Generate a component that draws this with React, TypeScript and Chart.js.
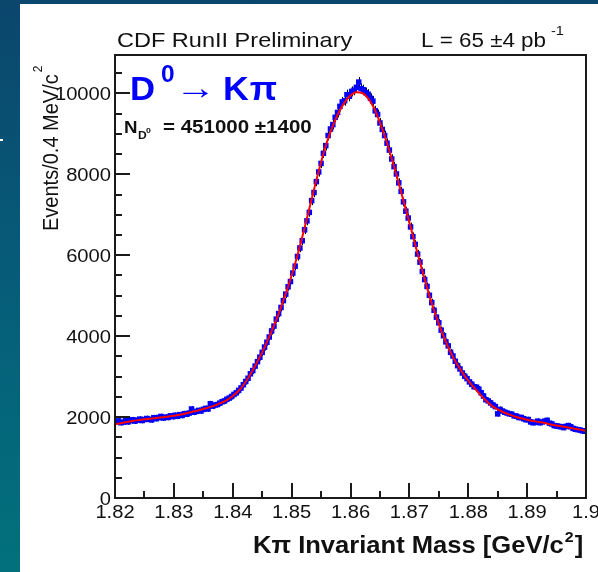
import React, { useEffect, useRef } from "react";
import { Chart, registerables } from "chart.js";

Chart.register(...registerables);

// ---- data -------------------------------------------------------------
const MASS_MIN = 1.82; // GeV/c^2, lower edge of the histogram
const MASS_MAX = 1.9;
const BIN_WIDTH = 0.0004; // 0.4 MeV/c^2 bins
const Y_MAX = 10950;

// events per 0.4 MeV/c^2 bin (200 bins from 1.820 to 1.900)
const counts = [
  1890, 1905, 1860, 1875, 1920, 1880, 1910, 1935, 1900, 1925,
  1950, 1915, 1940, 1965, 1945, 1930, 1985, 1960, 1990, 2015,
  1975, 2000, 1990, 2030, 2010, 2045, 2020, 2060, 2040, 2085,
  2070, 2100, 2200, 2120, 2140, 2165, 2150, 2190, 2215, 2200,
  2330, 2270, 2300, 2310, 2345, 2380, 2400, 2440, 2470, 2510,
  2560, 2600, 2660, 2720, 2800, 2880, 2960, 3070, 3150, 3260,
  3370, 3480, 3600, 3730, 3850, 3980, 4130, 4250, 4420, 4560,
  4710, 4880, 5040, 5220, 5350, 5560, 5730, 5970, 6180, 6360,
  6630, 6850, 7060, 7350, 7550, 7820, 8060, 8270, 8520, 8710,
  8960, 9120, 9230, 9410, 9530, 9680, 9790, 9820, 9970, 9930,
  10050, 10080, 10150, 10280, 10120, 10090, 10020, 9980, 9880, 9810,
  9570, 9480, 9270, 9110, 8960, 8770, 8600, 8380, 8190, 8010,
  7790, 7580, 7320, 7090, 6920, 6700, 6460, 6270, 6030, 5830,
  5600, 5400, 5230, 5010, 4830, 4640, 4470, 4330, 4150, 4010,
  3860, 3760, 3600, 3510, 3380, 3270, 3190, 3090, 3010, 2950,
  2870, 2810, 2750, 2740, 2690, 2600, 2520, 2430, 2400, 2350,
  2300, 2260, 2080, 2190, 2150, 2120, 2100, 2080, 2070, 2030,
  2020, 1990, 1990, 1960, 1935, 1940, 1880, 1860, 1870, 1900,
  1860, 1880, 1900, 1920, 1850, 1830, 1790, 1780, 1770, 1760,
  1740, 1770, 1790, 1760, 1720, 1700, 1690, 1680, 1660, 1650,
];

// fit curve sampled every 1 MeV/c^2 from 1.820 to 1.900
const FIT_STEP = 0.001;
const fitValues = [
  1820, 1850, 1880, 1905, 1925, 1945, 1960, 1975, 1995, 2015,
  2035, 2060, 2090, 2125, 2160, 2200, 2240, 2290, 2350, 2420,
  2520, 2650, 2830, 3060, 3320, 3600, 3920, 4260, 4640, 5050,
  5500, 6000, 6560, 7150, 7740, 8300, 8800, 9200, 9530, 9780,
  9950, 10030, 10010, 9880, 9640, 9280, 8860, 8390, 7880, 7350,
  6810, 6260, 5720, 5200, 4720, 4300, 3930, 3600, 3330, 3100,
  2900, 2730, 2560, 2410, 2280, 2190, 2120, 2060, 2010, 1970,
  1935, 1905, 1880, 1855, 1815, 1790, 1765, 1740, 1715, 1690,
  1660,
];

const xTickLabels = ["1.82", "1.83", "1.84", "1.85", "1.86", "1.87", "1.88", "1.89", "1.9"];
const yTickLabels = ["0", "2000", "4000", "6000", "8000", "10000"];
const X_MINOR_STEP = 0.005;
const Y_MINOR_STEP = 500;

const yTitle = "Events/0.4 MeV/c";
const xTitle = "K\u03c0 Invariant Mass [GeV/c";
const headerLeft = "CDF RunII Preliminary";
const headerRight = "L = 65 \u00b14 pb";
const yieldText = "= 451000 \u00b11400";

// ---- helpers ----------------------------------------------------------
const FAM = '"Liberation Sans", Arial, Helvetica, sans-serif';

function txt(
  ctx: CanvasRenderingContext2D,
  s: string,
  x: number,
  y: number,
  font: string,
  color = "#111",
  align: CanvasTextAlign = "left",
  sx = 1.12
) {
  ctx.save();
  ctx.font = font;
  ctx.fillStyle = color;
  ctx.textBaseline = "alphabetic";
  ctx.textAlign = align;
  ctx.translate(x, y);
  ctx.scale(sx, 1);
  ctx.fillText(s, 0, 0);
  const w = ctx.measureText(s).width * sx;
  ctx.restore();
  return w;
}

const framePlugin = {
  id: "rootFrame",
  beforeDatasetDraw(chart: any, args: any) {
    if (args.index !== 0) return;
    const ctx = chart.ctx as CanvasRenderingContext2D;
    const ys = chart.scales.y;
    ctx.save();
    ctx.strokeStyle = "#000";
    ctx.lineWidth = 1;
    const meta = chart.getDatasetMeta(0);
    meta.data.forEach((el: any, i: number) => {
      const n = counts[i];
      const s = Math.sqrt(n);
      const y1 = ys.getPixelForValue(n - s) + 1;
      const y2 = ys.getPixelForValue(n + s) - 1;
      ctx.beginPath();
      ctx.moveTo(Math.round(el.x) + 0.5, y1);
      ctx.lineTo(Math.round(el.x) + 0.5, y2);
      ctx.stroke();
    });
    ctx.restore();
  },
  afterDraw(chart: any) {
    const ctx = chart.ctx as CanvasRenderingContext2D;
    const { left, right, top, bottom } = chart.chartArea;
    const xs = chart.scales.x;
    const ys = chart.scales.y;
    ctx.save();
    ctx.strokeStyle = "#1a1a1a";
    ctx.lineWidth = 2;
    ctx.strokeRect(left, top, right - left, bottom - top);

    // y ticks (inside, ROOT style)
    for (let v = 0; v <= Y_MAX; v += Y_MINOR_STEP) {
      const y = Math.round(ys.getPixelForValue(v));
      const major = v % 2000 === 0;
      ctx.beginPath();
      ctx.moveTo(left, y);
      ctx.lineTo(left + (major ? 15 : 7), y);
      ctx.stroke();
    }
    // x ticks
    const nMinor = Math.round((MASS_MAX - MASS_MIN) / X_MINOR_STEP);
    for (let k = 0; k <= nMinor; k++) {
      const v = MASS_MIN + k * X_MINOR_STEP;
      const x = Math.round(xs.getPixelForValue(v));
      const major = k % 2 === 0;
      ctx.beginPath();
      ctx.moveTo(x, bottom);
      ctx.lineTo(x, bottom - (major ? 15 : 7));
      ctx.stroke();
    }
    ctx.restore();

    // tick labels
    const tickFont = `18px ${FAM}`;
    yTickLabels.forEach((lab) => {
      const y = ys.getPixelForValue(parseFloat(lab));
      txt(ctx, lab, left - 4, y + 6.5, tickFont, "#111", "right");
    });
    xTickLabels.forEach((lab) => {
      const x = xs.getPixelForValue(parseFloat(lab));
      txt(ctx, lab, x, bottom + 20, tickFont, "#111", "center");
    });

    // y title (rotated)
    ctx.save();
    ctx.translate(38, 227);
    ctx.rotate(-Math.PI / 2);
    ctx.scale(1, 1.12);
    ctx.font = `20px ${FAM}`;
    ctx.fillStyle = "#111";
    ctx.textBaseline = "alphabetic";
    ctx.fillText(yTitle, 0, 0);
    const wy = ctx.measureText(yTitle).width;
    ctx.font = `12px ${FAM}`;
    ctx.fillText("2", wy + 2, -14);
    ctx.restore();

    // x title
    const bx = `bold 24px ${FAM}`;
    let xx = 233;
    xx += txt(ctx, xTitle, xx, 549, bx, "#111", "left", 1.065);
    xx += txt(ctx, "2", xx + 1, 538, `bold 15px ${FAM}`, "#111", "left", 1.065) + 2;
    txt(ctx, "]", xx, 549, bx, "#111", "left", 1.065);

    // header
    txt(ctx, headerLeft, 97, 43, `21px ${FAM}`, "#111", "left", 1.12);
    const wl = txt(ctx, headerRight, 401, 43, `20px ${FAM}`, "#111", "left", 1.12);
    txt(ctx, "-1", 401 + wl + 5, 31, `13px ${FAM}`, "#111", "left", 1.12);

    // decay label
    const blue = "#0000ff";
    const big = `bold 34px ${FAM}`;
    txt(ctx, "D", 110, 96, big, blue, "left", 1.02);
    txt(ctx, "0", 141, 78, `bold 24px ${FAM}`, blue, "left", 1.02);
    // arrow
    ctx.save();
    ctx.font = `34px ${FAM}`;
    const aw = ctx.measureText("\u2192").width;
    ctx.translate(155, 95);
    ctx.scale(41 / aw, 1);
    ctx.fillStyle = blue;
    ctx.fillText("\u2192", 0, 0);
    ctx.restore();
    let kx = 203;
    kx += txt(ctx, "K", kx, 96, big, blue, "left", 1.05);
    txt(ctx, "\u03c0", kx + 1, 96, `bold 34px ${FAM}`, blue, "left", 1.05);

    // yield
    const yf = `bold 17px ${FAM}`;
    txt(ctx, "N", 104, 129, yf, "#111", "left", 1.1);
    txt(ctx, "D", 118, 135, `bold 11px ${FAM}`, "#111", "left", 1.1);
    txt(ctx, "0", 126, 129, `bold 8px ${FAM}`, "#111", "left", 1.1);
    txt(ctx, yieldText, 143, 129, `bold 18px ${FAM}`, "#111", "left", 1.14);
  },
};

export default function App() {
  const ref = useRef<HTMLCanvasElement | null>(null);
  useEffect(() => {
    if (!ref.current) return;
    const points = counts.map((c, i) => ({ x: MASS_MIN + BIN_WIDTH * (i + 0.5), y: c }));
    const fitPts = fitValues.map((v, i) => ({ x: MASS_MIN + FIT_STEP * i, y: v }));
    const chart = new Chart(ref.current, {
      type: "scatter",
      data: {
        datasets: [
          {
            label: "data",
            data: points,
            order: 2,
            pointStyle: "rect",
            pointRadius: 3.9,
            borderWidth: 0,
            borderColor: "#0000ff",
            backgroundColor: "#0000ff",
            showLine: false,
          } as any,
          {
            type: "line",
            label: "fit",
            data: fitPts,
            order: 1,
            borderColor: "#ff0000",
            borderWidth: 2,
            pointRadius: 0,
            cubicInterpolationMode: "monotone",
            showLine: true,
            fill: false,
          } as any,
        ],
      },
      options: {
        responsive: false,
        animation: false,
        devicePixelRatio: 1,
        events: [],
        layout: { padding: { left: 95, top: 51, right: 12, bottom: 74 } },
        scales: {
          x: { type: "linear", min: MASS_MIN, max: MASS_MAX, display: false },
          y: { type: "linear", min: 0, max: Y_MAX, display: false },
        },
        plugins: { legend: { display: false }, tooltip: { enabled: false } },
      },
      plugins: [framePlugin],
    });
    return () => chart.destroy();
  }, []);

  return (
    <div
      style={{
        position: "fixed",
        left: 0,
        top: 0,
        width: 598,
        height: 572,
        overflow: "hidden",
        background: "linear-gradient(to bottom, #0b466d 0%, #065d79 50%, #02717d 100%)",
      }}
    >
      <div style={{ position: "absolute", left: 0, top: 139, width: 3, height: 2, background: "#fff" }} />
      <canvas
        ref={ref}
        width={578}
        height={568}
        style={{ position: "absolute", left: 20, top: 4, width: 578, height: 568, background: "#fff" }}
      />
    </div>
  );
}
